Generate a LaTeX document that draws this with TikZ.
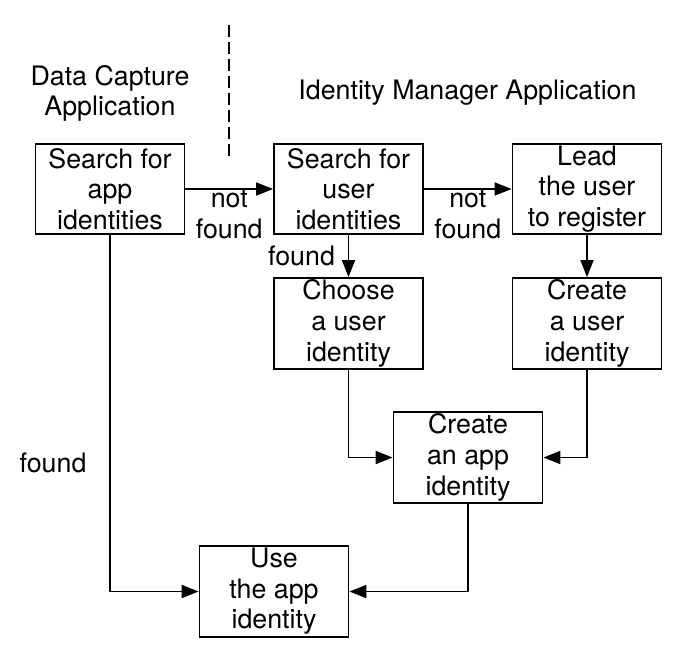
\documentclass[tikz,border=0pt]{standalone}
\usepackage{fontspec}
\setmainfont{TeX Gyre Heros}
\usetikzlibrary{positioning, arrows.meta}

\begin{document}
\begin{tikzpicture}[node distance=119.25pt, on grid, line width=0.9pt,
    font=\fontsize{13.4}{15.3}\selectfont,
    task/.style={draw, minimum width=74.5pt, minimum height=45pt, inner sep=1pt, align=center},
    title/.style={align=center},
    elbow/.style={to path={|- (\tikztotarget) \tikztonodes}},
    >={Triangle[length=8.5pt, width=6.5pt]}]
  \useasboundingbox (-55pt,-237.5pt) rectangle (289.5pt,94.5pt);
  % Nodes
  \node[task] (A) {Search for\\app\\identities};
  \node[task] (B) [right=of A] {Search for\\user\\identities};
  \node[task] (C) [right=of B] {Lead\\the user\\to register};
  \node[task] (D) [below=67.25pt of B] {Choose\\a user\\identity};
  \node[task] (E) [below=67.25pt of C] {Create\\a user\\identity};
  \node[task] (F) [below right=67pt and 59.75pt of D] {Create\\an app\\identity};
  \node[task] (G) [below left=67pt and 97pt of F] {Use\\the app\\identity};
  \node[title] (dca) [above=47.8pt of A] {Data Capture\\Application};
  \node[title] (ima) [above right=48.3pt and 59.5pt of B] {Identity Manager Application};
  \coordinate[above right=82pt and 59.5pt of A] (sepTop);
  \coordinate[above right=14.5pt and 59.5pt of A] (sepBot);
  % Edges
  \path[->]
    (A) edge node[below, inner sep=0pt, align=center] {not\\found} (B)
        edge[elbow] node[pos=0.32, left=8pt] {found} (G)
    (B) edge node[below, inner sep=0pt, align=center] {not\\found} (C)
        edge node[left=3pt] {found} (D)
    (C) edge (E)
    (D) edge[elbow] (F)
    (E) edge[elbow] (F)
    (F) edge[elbow] (G);
  \draw[dashed, dash pattern=on 6pt off 2.5pt] (sepTop) -- (sepBot);
\end{tikzpicture}
\end{document}
